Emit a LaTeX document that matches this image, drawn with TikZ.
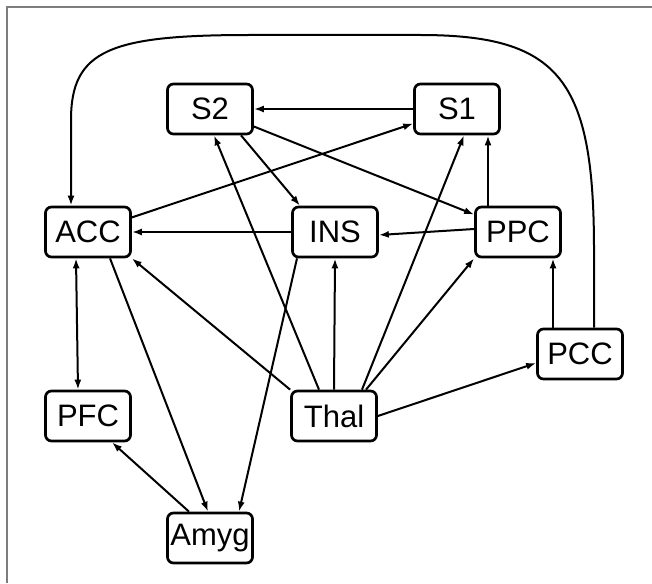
\documentclass[tikz,border=0pt]{standalone}
\usepackage{fontspec}
\setmainfont{Liberation Sans}
\usetikzlibrary{arrows.meta,calc}
\definecolor{frameGray}{RGB}{125,125,125}

\begin{document}
\begin{tikzpicture}[x=1pt, y=-1pt,
  roi/.style={draw, line width=2.7pt, rounded corners=6pt, minimum width=85pt,
              minimum height=50pt, inner sep=0pt, font=\fontsize{31}{31}\selectfont},
  link/.style={line width=2pt, -{Latex[length=10pt,width=7pt]}}
]
  \useasboundingbox (0,0) rectangle (652,583);
  \draw[frameGray, line width=1.5pt] (7,583) -- (7,7) -- (652,7);

  % regions
  \node[roi] (S2)   at (210,109) {S2};
  \node[roi] (S1)   at (457,109) {S1};
  \node[roi] (ACC)  at (88,232)  {ACC};
  \node[roi] (INS)  at (335,232) {INS};
  \node[roi] (PPC)  at (518,232) {PPC};
  \node[roi] (PCC)  at (580,354) {PCC};
  \node[roi] (PFC)  at (88,416)  {PFC};
  \node[roi] (Thal) at (334,416) {Thal};
  \node[roi] (Amyg) at (210,538) {Amyg};

  % connections
  \draw[link] (S1.west) -- (S2.east);
  \draw[link] (ACC) -- (S1);
  \draw[link] ([xshift=31pt]S2.south) -- ([xshift=-35pt]INS.north);
  \draw[link] (S2) -- (PPC);
  \draw[link] ([xshift=-15pt]Thal.north) -- ([xshift=4pt]S2.south);
  \draw[link] ([xshift=28pt]Thal.north) -- ([xshift=7pt]S1.south);
  \draw[link] ([xshift=-30pt]PPC.north) -- ([xshift=-30pt]PPC.north |- S1.south);
  \draw[link] (INS.west) -- (ACC.east);
  \draw[link] ([yshift=3pt]PPC.west) -- ([yshift=-3pt]INS.east);
  \draw[link] (Thal.north) -- (INS.south);
  \draw[link] (Thal.north west) -- (ACC.south east);
  \draw[link] ([xshift=32pt]Thal.north) -- (PPC.south west);
  \draw[link] ([xshift=-27pt]PCC.north) -- ([xshift=-27pt]PCC.north |- PPC.south);
  \draw[link] ([xshift=14pt]PCC.north) -- (594,250)
              .. controls (594,80) and (560,35) .. (420,35) -- (250,35)
              .. controls (110,35) and (71,50) .. (71,120)
              -- ([xshift=-17pt]ACC.north);
  \draw[link, {Latex[length=10pt,width=7pt]}-{Latex[length=10pt,width=7pt]}]
              ([xshift=-12pt]ACC.south) -- ([xshift=-10pt]PFC.north);
  \draw[link] ([xshift=22pt]ACC.south) -- ([xshift=-2pt]Amyg.north);
  \draw[link] ([xshift=-38pt]INS.south) -- ([xshift=29pt]Amyg.north);
  \draw[link] ([xshift=-21pt]Amyg.north) -- ([xshift=24pt]PFC.south);
  \draw[link] (Thal.east) -- ([yshift=-9pt]PCC.west);
\end{tikzpicture}
\end{document}
